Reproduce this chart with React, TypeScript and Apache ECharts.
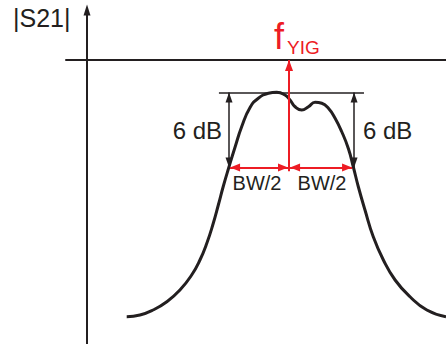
import React, { useEffect, useRef } from "react";
import * as echarts from "echarts";

// Filter transmission |S21| (dB) versus frequency (arbitrary units, f_YIG = 100)
const freq = [19.65, 26.2, 32.7, 39.5, 46.0, 51.8, 55.9, 59.3, 62.5, 65.0, 67.5, 70.3, 73.3, 76.6, 80.7, 84.8, 89.8, 93.9, 98.0, 100.5, 103.0, 106.3, 109.6, 112.9, 116.2, 119.5, 122.8, 126.1, 129.4, 131.8, 134.3, 137.6, 141.7, 146.7, 152.5, 159.9, 168.2, 177.7];
const s21 = [-20.54, -20.4, -20.0, -19.34, -18.4, -17.2, -16.0, -14.66, -13.06, -11.6, -10.08, -8.54, -6.96, -5.32, -3.8, -3.06, -2.66, -2.58, -2.8, -3.2, -3.74, -4.0, -3.74, -3.38, -3.46, -3.86, -4.66, -5.74, -7.1, -8.54, -10.14, -12.0, -14.14, -16.0, -17.6, -18.94, -20.0, -20.54];

// Annotation levels and frequencies
const fYIG = 100;
const peakLevel = -2.6;
const sixDbLevel = -8.6;
const peakLineSpan = [65.3, 137.1];
const sixDbFreqs = [70.3, 132.2];
const bwArrowLeft = [70.8, 99.5];
const bwArrowRight = [100.5, 131.2];
const fYIGArrowBottom = -8.9;

// Axis ranges
const freqRange = [-10.4, 177.7];
const dbRange = [-22.72, 4];

const INK = "#231f20";
const RED = "#ed1c24";
const FONT = "'Liberation Sans', Arial, sans-serif";

type Pt = [number, number];

function arrowSeg(a: Pt, b: Pt, color: string, width: number, fromArrow: boolean, toArrow: boolean, size: number[]) {
  const end = (c: Pt, on: boolean) => ({
    coord: c,
    symbol: on ? "triangle" : "none",
    symbolSize: size,
    symbolOffset: [0, "50%"],
  });
  return [
    { ...end(a, fromArrow), lineStyle: { color, width, type: "solid" } },
    end(b, toArrow),
  ];
}

export default function App() {
  const ref = useRef<HTMLDivElement>(null);

  useEffect(() => {
    if (!ref.current) return;
    const chart = echarts.init(ref.current, null, { renderer: "svg" });

    const curve = freq.map((f, i) => [f, s21[i]]);

    const marks = [
      arrowSeg([peakLineSpan[0], peakLevel], [peakLineSpan[1], peakLevel], INK, 1.5, false, false, [7, 10]),
      arrowSeg([sixDbFreqs[0], sixDbLevel], [sixDbFreqs[0], peakLevel], INK, 1.5, true, true, [7, 10]),
      arrowSeg([sixDbFreqs[1], sixDbLevel], [sixDbFreqs[1], peakLevel], INK, 1.5, true, true, [7, 10]),
      arrowSeg([bwArrowLeft[0], sixDbLevel], [bwArrowLeft[1], sixDbLevel], RED, 2, true, true, [8, 10]),
      arrowSeg([bwArrowRight[0], sixDbLevel], [bwArrowRight[1], sixDbLevel], RED, 2, true, true, [8, 10]),
      arrowSeg([fYIG, fYIGArrowBottom], [fYIG, 0], RED, 2, false, true, [8, 11]),
    ];

    chart.setOption({
      animation: false,
      backgroundColor: "#ffffff",
      grid: { left: 66, right: 0, top: 10, bottom: 0, containLabel: false },
      xAxis: {
        type: "value",
        min: freqRange[0],
        max: freqRange[1],
        axisLine: { show: true, onZero: true, lineStyle: { color: INK, width: 2 } },
        axisTick: { show: false },
        axisLabel: { show: false },
        splitLine: { show: false },
      },
      yAxis: {
        type: "value",
        min: dbRange[0],
        max: dbRange[1],
        axisLine: {
          show: true,
          onZero: true,
          symbol: ["none", "triangle"],
          symbolSize: [7, 11],
          lineStyle: { color: INK, width: 2 },
        },
        axisTick: { show: false },
        axisLabel: { show: false },
        splitLine: { show: false },
      },
      series: [
        {
          type: "line",
          data: curve,
          smooth: 0.5,
          showSymbol: false,
          silent: true,
          lineStyle: { color: INK, width: 3 },
          markLine: {
            silent: true,
            animation: false,
            label: { show: false },
            emphasis: { disabled: true },
            lineStyle: { type: "solid" },
            data: marks,
          },
        },
      ],
      graphic: [
        { type: "text", style: { text: "|S21|", x: 13, y: 18, verticalAlign: "middle", fontSize: 25, fontFamily: FONT, fill: INK } },
        { type: "text", style: { text: "6 dB", x: 222, y: 130, align: "right", verticalAlign: "middle", fontSize: 24, fontFamily: FONT, fill: INK } },
        { type: "text", style: { text: "6 dB", x: 363, y: 130, align: "left", verticalAlign: "middle", fontSize: 24, fontFamily: FONT, fill: INK } },
        { type: "text", style: { text: "BW/2", x: 257, y: 183, align: "center", verticalAlign: "middle", fontSize: 20, fontFamily: FONT, fill: INK } },
        { type: "text", style: { text: "BW/2", x: 322, y: 183, align: "center", verticalAlign: "middle", fontSize: 20, fontFamily: FONT, fill: INK } },
        { type: "text", style: { text: "f", x: 279, y: 36, align: "center", verticalAlign: "middle", fontSize: 36, fontFamily: FONT, fill: RED } },
        { type: "text", style: { text: "YIG", x: 287, y: 47.5, align: "left", verticalAlign: "middle", fontSize: 19, fontFamily: FONT, fill: RED } },
      ],
    });

    return () => chart.dispose();
  }, []);

  return (
    <div
      ref={ref}
      style={{ position: "fixed", left: 0, top: 0, width: 446, height: 344, background: "#ffffff" }}
    />
  );
}
